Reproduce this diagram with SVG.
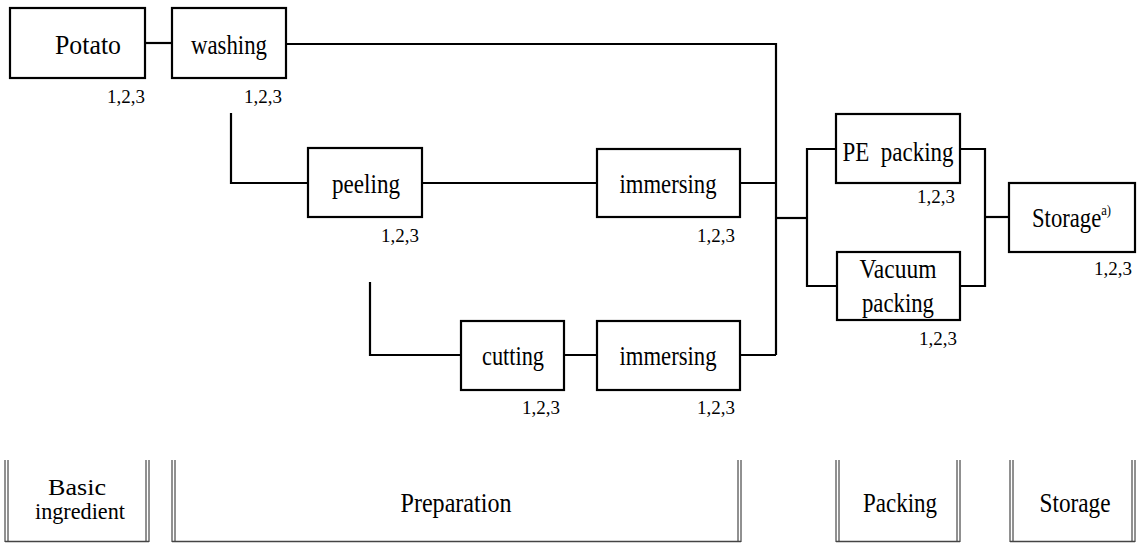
<svg xmlns="http://www.w3.org/2000/svg" width="1139" height="544" viewBox="0 0 1139 544">
<style>
.box{fill:#fff;stroke:#000;stroke-width:2.2}
.ln{fill:none;stroke:#000;stroke-width:2.2}
text{font-family:'Liberation Serif','Times New Roman',serif;fill:#000}
.t{font-size:27px;text-anchor:middle}
.s{font-size:24px;text-anchor:middle}
.n{font-size:19px;text-anchor:end}
.dl{fill:none;stroke:#222;stroke-width:1}
.bl{fill:none;stroke:#444;stroke-width:1.6}
</style>
<rect width="1139" height="544" fill="#fff"/>
<g id="connectors">
<path class="ln" d="M145 43H172"/>
<path class="ln" d="M286 44H776V355"/>
<path class="ln" d="M231 113V183H308"/>
<path class="ln" d="M422 183H597"/>
<path class="ln" d="M740 183H776"/>
<path class="ln" d="M370 282V355H461"/>
<path class="ln" d="M564 355H597"/>
<path class="ln" d="M740 355H776"/>
<path class="ln" d="M776 218H807"/>
<path class="ln" d="M836 149H807V286H837"/>
<path class="ln" d="M960 149H985V286H960"/>
<path class="ln" d="M985 217H1009"/>
</g>
<g id="potato">
<rect class="box" x="10" y="8" width="135" height="70"/>
<text class="t" x="88" y="54" textLength="66" lengthAdjust="spacingAndGlyphs">Potato</text>
<text class="n" x="145" y="103">1,2,3</text>
</g>
<g id="washing">
<rect class="box" x="172" y="8" width="114" height="70"/>
<text class="t" x="229" y="54" textLength="76" lengthAdjust="spacingAndGlyphs">washing</text>
<text class="n" x="282" y="103">1,2,3</text>
</g>
<g id="peeling">
<rect class="box" x="308" y="148" width="114" height="69"/>
<text class="t" x="366" y="193" textLength="68" lengthAdjust="spacingAndGlyphs">peeling</text>
<text class="n" x="419" y="242">1,2,3</text>
</g>
<g id="immersing1">
<rect class="box" x="597" y="149" width="143" height="68"/>
<text class="t" x="668" y="193" textLength="97" lengthAdjust="spacingAndGlyphs">immersing</text>
<text class="n" x="735" y="242">1,2,3</text>
</g>
<g id="cutting">
<rect class="box" x="461" y="321" width="103" height="69"/>
<text class="t" x="513" y="365" textLength="62" lengthAdjust="spacingAndGlyphs">cutting</text>
<text class="n" x="560" y="414">1,2,3</text>
</g>
<g id="immersing2">
<rect class="box" x="597" y="321" width="143" height="69"/>
<text class="t" x="668" y="365" textLength="97" lengthAdjust="spacingAndGlyphs">immersing</text>
<text class="n" x="735" y="414">1,2,3</text>
</g>
<g id="pe-packing">
<rect class="box" x="836" y="114" width="124" height="69"/>
<text class="t" x="898" y="161" textLength="111" lengthAdjust="spacingAndGlyphs" xml:space="preserve">PE  packing</text>
<text class="n" x="955" y="203">1,2,3</text>
</g>
<g id="vacuum-packing">
<rect class="box" x="837" y="252" width="123" height="68"/>
<text class="t" x="898" y="278" textLength="77" lengthAdjust="spacingAndGlyphs">Vacuum</text>
<text class="t" x="898" y="312" textLength="72" lengthAdjust="spacingAndGlyphs">packing</text>
<text class="n" x="957" y="345">1,2,3</text>
</g>
<g id="storage">
<rect class="box" x="1009" y="183" width="126" height="69"/>
<text transform="translate(1032,227) scale(0.84,1)" font-size="27">Storage<tspan dy="-12" font-size="15">a)</tspan></text>
<text class="n" x="1132" y="275">1,2,3</text>
</g>
<g id="stage-basic">
<path class="dl" d="M5 460V542M8 460V542M146 460V542M149 460V542"/>
<path class="bl" d="M5 541.5H149"/>
<text class="s" x="77" y="495" textLength="58" lengthAdjust="spacingAndGlyphs">Basic</text>
<text class="s" x="80" y="519" textLength="90" lengthAdjust="spacingAndGlyphs">ingredient</text>
</g>
<g id="stage-preparation">
<path class="dl" d="M172 460V542M175 460V542M738 460V542M741 460V542"/>
<path class="bl" d="M172 541.5H741"/>
<text class="t" x="456" y="512" textLength="111" lengthAdjust="spacingAndGlyphs">Preparation</text>
</g>
<g id="stage-packing">
<path class="dl" d="M836 460V542M839 460V542M957 460V542M960 460V542"/>
<path class="bl" d="M836 541.5H960"/>
<text class="t" x="900" y="512" textLength="74" lengthAdjust="spacingAndGlyphs">Packing</text>
</g>
<g id="stage-storage">
<path class="dl" d="M1010 460V542M1013 460V542M1132 460V542M1135 460V542"/>
<path class="bl" d="M1010 541.5H1135"/>
<text class="t" x="1075" y="512" textLength="71" lengthAdjust="spacingAndGlyphs">Storage</text>
</g>
</svg>
